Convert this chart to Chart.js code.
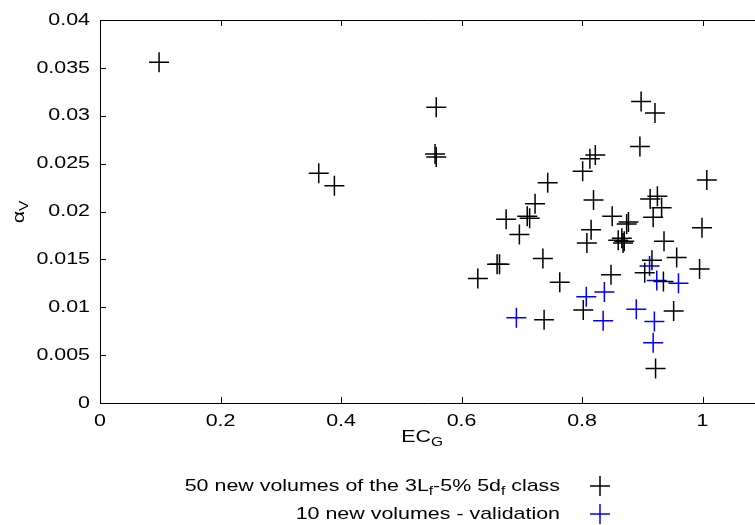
<!DOCTYPE html>
<html>
<head>
<meta charset="utf-8">
<script src="https://cdn.jsdelivr.net/npm/chart.js@4.4.1/dist/chart.umd.min.js"></script>
<style>
  html, body { margin: 0; padding: 0; background: #fff; overflow: hidden; }
  #wrap { width: 755px; height: 525px; }
</style>
</head>
<body>
<div id="wrap"><canvas id="scatterChart"></canvas></div>
<script>
// 50 new volumes of the 3Lf-5% 5df class (black)
const classX = [0.098, 0.363, 0.389, 0.558, 0.556, 0.558, 0.898, 0.921, 0.896, 1.007,
                0.813, 0.822, 0.801, 0.743, 0.819, 0.722, 0.709, 0.713, 0.674, 0.696,
                0.850, 0.877, 0.874, 0.815, 0.808, 0.860, 0.866, 0.868, 0.870, 0.913,
                0.925, 0.932, 0.918, 0.999, 0.936, 0.735, 0.659, 0.663, 0.627, 0.763,
                0.848, 0.916, 0.904, 0.957, 0.995, 0.935, 0.802, 0.737, 0.952, 0.922];
const classY = [0.0356, 0.0240, 0.0227, 0.0309, 0.0260, 0.0257, 0.0315, 0.0303, 0.0268, 0.0233,
                0.0255, 0.0259, 0.0242, 0.0230, 0.0212, 0.0208, 0.0195, 0.0193, 0.0192, 0.0176,
                0.0195, 0.0189, 0.0187, 0.0181, 0.0167, 0.0170, 0.0172, 0.0167, 0.0169, 0.0213,
                0.0216, 0.0204, 0.0194, 0.0183, 0.0169, 0.0151, 0.0145, 0.0145, 0.0130, 0.0126,
                0.0134, 0.0149, 0.0136, 0.0152, 0.0140, 0.0127, 0.0097, 0.0087, 0.0096, 0.0036];

// 10 new volumes - validation (blue)
const validX = [0.912, 0.924, 0.960, 0.837, 0.807, 0.691, 0.835, 0.890, 0.920, 0.918];
const validY = [0.0143, 0.0128, 0.0125, 0.0116, 0.0111, 0.0089, 0.0086, 0.0098, 0.0085, 0.0063];

const xTicks = [0, 0.2, 0.4, 0.6, 0.8, 1];
const yTicks = [0, 0.005, 0.01, 0.015, 0.02, 0.025, 0.03, 0.035, 0.04];

const FONT = "'Liberation Sans', Arial, sans-serif";
const FONT_SIZE = 17;
const STRETCH = 1.26; // the original lettering is wide
const BLUE = "rgb(0, 0, 255)";

const toPoints = (xs, ys) => xs.map((x, i) => ({ x: x, y: ys[i] }));
const fmt = v => String(+v.toFixed(3));

// draw a row of text pieces, some of them subscripts
function drawRuns(ctx, runs, x, y, align) {
    const size = FONT_SIZE;
    const widths = runs.map(r => {
        ctx.font = (r.sub ? size * 0.72 : size) + "px " + FONT;
        return ctx.measureText(r.t).width * STRETCH;
    });
    const total = widths.reduce((a, b) => a + b, 0);
    let cx = align === "right" ? x - total : align === "center" ? x - total / 2 : x;
    ctx.textBaseline = "middle";
    ctx.textAlign = "left";
    runs.forEach((r, i) => {
        ctx.font = (r.sub ? size * 0.72 : size) + "px " + FONT;
        ctx.save();
        ctx.translate(cx, r.sub ? y + size * 0.32 : y);
        ctx.scale(STRETCH, 1);
        ctx.fillText(r.t, 0, 0);
        ctx.restore();
        cx += widths[i];
    });
}

function drawCross(ctx, x, y, r, color) {
    ctx.strokeStyle = color;
    ctx.lineWidth = 1.5;
    ctx.beginPath();
    ctx.moveTo(x - r, y); ctx.lineTo(x + r, y);
    ctx.moveTo(x, y - r); ctx.lineTo(x, y + r);
    ctx.stroke();
}

// gnuplot style frame, inward ticks, labels, titles and legend
const gnuplotDecor = {
    id: "gnuplotDecor",
    afterDraw(chart) {
        const ctx = chart.ctx;
        const area = chart.chartArea;
        const xs = chart.scales.x, ys = chart.scales.y;
        ctx.save();
        ctx.strokeStyle = "#000";
        ctx.lineWidth = 1;
        ctx.beginPath();
        ctx.moveTo(area.right + 5, area.top + 0.5);
        ctx.lineTo(area.left + 0.5, area.top + 0.5);
        ctx.lineTo(area.left + 0.5, area.bottom + 0.5);
        ctx.lineTo(area.right + 5, area.bottom + 0.5);
        xTicks.forEach(v => {
            const px = Math.round(xs.getPixelForValue(v)) + 0.5;
            ctx.moveTo(px, area.bottom); ctx.lineTo(px, area.bottom - 6);
            ctx.moveTo(px, area.top); ctx.lineTo(px, area.top + 6);
        });
        yTicks.forEach(v => {
            const py = Math.round(ys.getPixelForValue(v)) + 0.5;
            ctx.moveTo(area.left, py); ctx.lineTo(area.left + 6, py);
        });
        ctx.stroke();

        ctx.fillStyle = "#000";
        xTicks.forEach(v => {
            drawRuns(ctx, [{ t: fmt(v) }], xs.getPixelForValue(v), area.bottom + 18, "center");
        });
        yTicks.forEach(v => {
            drawRuns(ctx, [{ t: fmt(v) }], area.left - 10, ys.getPixelForValue(v), "right");
        });

        drawRuns(ctx, [{ t: "EC" }, { t: "G", sub: true }], 422, 437, "center");

        ctx.save();
        ctx.translate(19, 212);
        ctx.rotate(-Math.PI / 2);
        drawRuns(ctx, [{ t: "\u03B1" }, { t: "V", sub: true }], 0, 0, "center");
        ctx.restore();

        drawRuns(ctx, [
            { t: "50 new volumes of the 3L" }, { t: "f", sub: true },
            { t: "-5% 5d" }, { t: "f", sub: true }, { t: " class" }
        ], 560, 486, "right");
        drawRuns(ctx, [{ t: "10 new volumes - validation" }], 560, 514, "right");
        drawCross(ctx, 600, 486, 10, "#000");
        drawCross(ctx, 600, 514, 10, BLUE);
        ctx.restore();
    }
};

const ctx = document.getElementById("scatterChart").getContext("2d");
new Chart(ctx, {
    type: "scatter",
    data: {
        datasets: [
            {
                label: "50 new volumes of the 3Lf-5% 5df class",
                data: toPoints(classX, classY),
                pointStyle: "cross",
                pointRadius: 10,
                borderColor: "#000",
                borderWidth: 1.5
            },
            {
                label: "10 new volumes - validation",
                data: toPoints(validX, validY),
                pointStyle: "cross",
                pointRadius: 10,
                borderColor: BLUE,
                borderWidth: 1.5
            }
        ]
    },
    options: {
        responsive: true,
        maintainAspectRatio: false,
        animation: false,
        layout: {
            autoPadding: false,
            padding: { top: 20, right: 0, left: 0, bottom: 0 }
        },
        plugins: {
            legend: { display: false },
            tooltip: { enabled: false }
        },
        scales: {
            x: {
                type: "linear",
                min: 0,
                max: 1.087,
                grid: { display: false, drawTicks: false },
                border: { display: false },
                afterBuildTicks: scale => {
                    scale.ticks = xTicks.map(v => ({ value: v }));
                },
                afterFit: scale => { scale.height = 122; },
                ticks: { display: false }
            },
            y: {
                type: "linear",
                min: 0,
                max: 0.04,
                grid: { display: false, drawTicks: false },
                border: { display: false },
                afterBuildTicks: scale => {
                    scale.ticks = yTicks.map(v => ({ value: v }));
                },
                afterFit: scale => { scale.width = 100; },
                ticks: { display: false }
            }
        }
    },
    plugins: [gnuplotDecor]
});
</script>
</body>
</html>
